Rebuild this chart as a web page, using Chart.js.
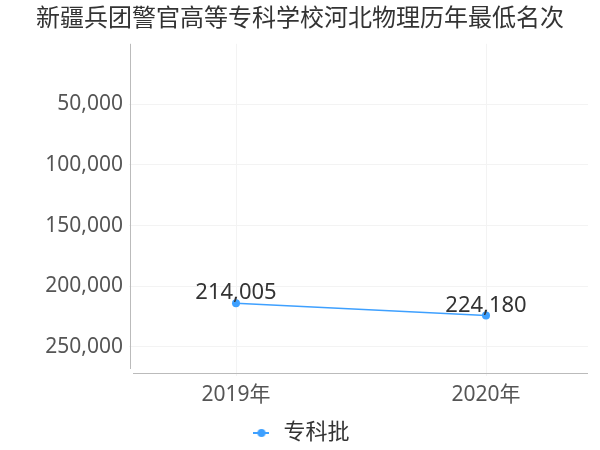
<!DOCTYPE html>
<html>
<head>
<meta charset="utf-8">
<script src="https://cdn.jsdelivr.net/npm/chart.js@4/dist/chart.umd.min.js"></script>
<style>
  html, body { margin: 0; padding: 0; background: #fff; }
  #wrap { width: 600px; height: 450px; }
</style>
</head>
<body>
<div id="wrap"><canvas id="c" width="600" height="450"></canvas></div>
<script>
// 数据
const categories = ['2019年', '2020年'];
const values = [214005, 224180];
const yTicks = [50000, 100000, 150000, 200000, 250000];
const seriesName = '专科批';

const FONT = "'Noto Sans', 'Noto Sans CJK SC', sans-serif";
const LINE_COLOR = '#3ea0ff';

// 图例用的小图标: 线段 + 圆点
function legendIcon() {
  const cv = document.createElement('canvas');
  cv.width = 16; cv.height = 10;
  const g = cv.getContext('2d');
  g.strokeStyle = LINE_COLOR; g.lineWidth = 2;
  g.beginPath(); g.moveTo(0, 5); g.lineTo(16, 5); g.stroke();
  g.fillStyle = LINE_COLOR;
  g.beginPath(); g.arc(8, 5, 4, 0, Math.PI * 2); g.fill();
  return cv;
}

// 数据标签 + 分离的坐标轴线
const extras = {
  id: 'extras',
  afterDatasetsDraw(chart) {
    const ctx = chart.ctx;
    const meta = chart.getDatasetMeta(0);
    ctx.save();
    ctx.font = '22px ' + FONT;
    ctx.fillStyle = '#333';
    ctx.textAlign = 'center';
    ctx.textBaseline = 'bottom';
    meta.data.forEach((pt, i) => {
      ctx.fillText(values[i].toLocaleString('en-US'), pt.x, pt.y + 1);
    });
    const a = chart.chartArea;
    ctx.strokeStyle = '#bbb';
    ctx.lineWidth = 1;
    ctx.beginPath();
    ctx.moveTo(a.left - 2.5, a.top);
    ctx.lineTo(a.left - 2.5, a.bottom - 2);
    ctx.moveTo(a.left, a.bottom + 2.5);
    ctx.lineTo(a.right, a.bottom + 2.5);
    ctx.stroke();
    ctx.restore();
  }
};

new Chart(document.getElementById('c'), {
  type: 'line',
  data: {
    datasets: [{
      label: seriesName,
      data: values.map((v, i) => ({ x: i, y: v })),
      borderColor: LINE_COLOR,
      backgroundColor: LINE_COLOR,
      borderWidth: 1.5,
      pointRadius: 4,
      pointHoverRadius: 4,
      pointBorderWidth: 0,
      tension: 0,
    }],
  },
  options: {
    responsive: false,
    animation: false,
    layout: { padding: { left: 12, right: 12, top: 0, bottom: -4 } },
    plugins: {
      title: {
        display: true,
        text: '新疆兵团警官高等专科学校河北物理历年最低名次',
        font: { family: FONT, size: 24, weight: 'normal' },
        color: '#333',
        padding: { top: 5, bottom: 10 },
      },
      legend: {
        position: 'bottom',
        labels: {
          font: { family: FONT, size: 22 },
          color: '#333',
          usePointStyle: true,
          padding: 2,
          generateLabels: () => [{
            text: seriesName,
            pointStyle: legendIcon(),
            fontColor: '#333',
            lineWidth: 0,
            strokeStyle: 'transparent',
            fillStyle: LINE_COLOR,
          }],
        },
      },
      tooltip: { enabled: false },
    },
    scales: {
      x: {
        type: 'linear',
        min: -0.412,
        max: 1.408,
        afterBuildTicks: (s) => { s.ticks = categories.map((_, i) => ({ value: i })); },
        afterFit: (s) => { s.height = 49; },
        ticks: {
          callback: (v) => categories[v],
          font: { family: FONT, size: 21 },
          color: '#555',
          padding: 6,
        },
        grid: { color: '#f3f3f3', drawTicks: true, tickLength: 5 },
        border: { display: false },
      },
      y: {
        reverse: true,
        min: 0,
        max: 270000,
        afterBuildTicks: (s) => { s.ticks = yTicks.map(v => ({ value: v })); },
        afterFit: (s) => { s.width = 121; },
        ticks: {
          callback: (v) => v.toLocaleString('en-US'),
          font: { family: FONT, size: 21 },
          color: '#555',
          padding: 6,
        },
        grid: { color: '#f3f3f3', tickLength: 4 },
        border: { display: false },
      },
    },
  },
  plugins: [extras],
});
</script>
</body>
</html>
